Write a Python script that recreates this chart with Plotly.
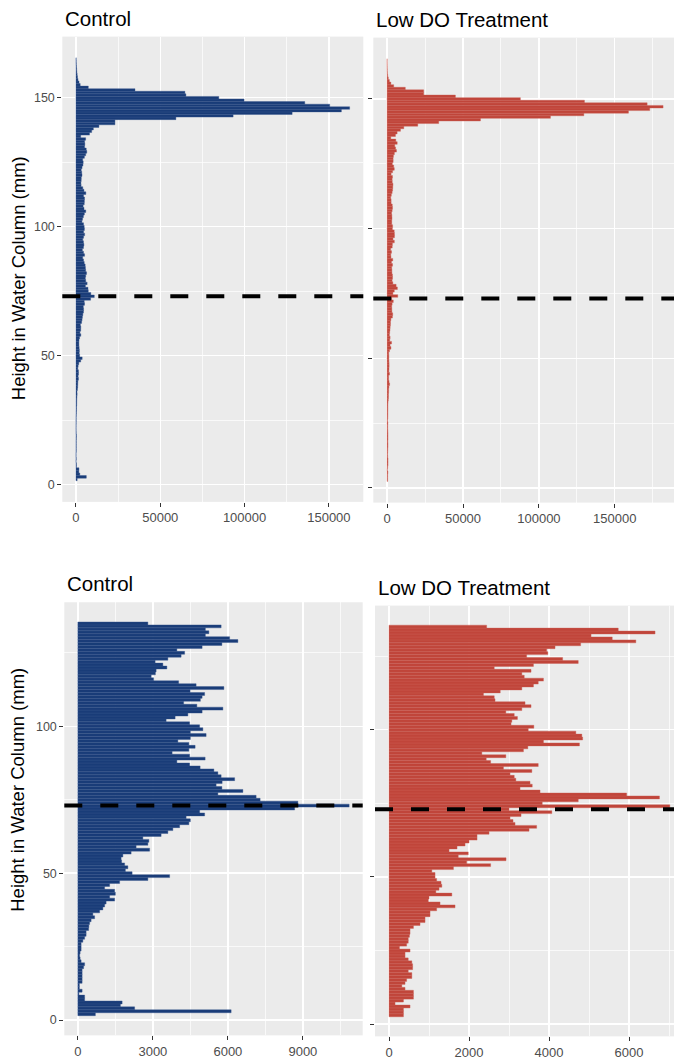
import plotly.graph_objects as go

# ---------------- data ----------------
control_height = list(range(2, 166))
control_count = [
    700, 6130, 2270, 1700, 1770, 270, 270, 40, 170, 60,            # 2-11
    60, 170, 170, 170, 170, 170, 230, 270, 130, 90,                # 12-21
    70, 90, 130, 130, 130, 200, 270, 330, 330, 430,                # 22-31
    440, 470, 530, 670, 600, 870, 1000, 1070, 1130, 1470,          # 32-41
    1270, 1500, 1470, 1070, 1270, 1670, 2800, 3670, 2170, 1900,    # 42-51
    2000, 1870, 1750, 1730, 1800, 2130, 2870, 2330, 2800, 2840,    # 52-61
    2600, 3330, 3600, 3800, 4070, 4440, 4500, 4330, 5070, 4870,    # 62-71
    8670, 10850, 8800, 7290, 7130, 5600, 6600, 5760, 5530, 5770,   # 72-81
    6270, 5730, 5600, 5440, 4890, 4470, 3960, 5090, 4470, 3770,    # 82-91
    4440, 4690, 4440, 4000, 4500, 5130, 4500, 5000, 4870, 4470,    # 92-101
    3530, 3890, 4400, 4970, 5800, 4760, 4230, 4900, 4970, 5070,    # 102-111
    4490, 5840, 4730, 4030, 3030, 2930, 3100, 3130, 3560, 3400,    # 112-121
    3090, 3600, 4130, 4270, 3960, 4970, 5760, 6400, 6070, 5100,    # 122-131
    5240, 5100, 5730, 2800, 8000, 9300, 10300, 13600, 23100, 23100,  # 132-141
    59250, 93200, 128200, 157400, 162300, 150500, 135700, 99700, 84700, 65200,  # 142-151
    64600, 35000, 7300, 2500, 1800, 1200, 900, 700, 500, 400,      # 152-161
    300, 200, 150, 100,                                            # 162-165
]

lowdo_height = list(range(3, 166))
lowdo_count = [
    360, 360, 360, 525, 150, 360, 610, 610, 610, 400,              # 3-12
    320, 400, 440, 570, 570, 480, 590, 590, 570, 480,              # 13-22
    400, 400, 525, 260, 440, 480, 480, 510, 525, 525,              # 23-32
    610, 775, 900, 900, 1025, 1025, 1190, 1650, 1275, 980,         # 33-42
    1000, 1570, 1170, 1250, 1320, 1300, 1190, 1150, 1150, 1070,    # 43-52
    1610, 2540, 1940, 2925, 1730, 1980, 1500, 1700, 1900, 2000,    # 53-62
    2200, 2200, 2500, 3500, 3690, 3150, 3100, 3025, 3300, 4070,    # 63-72
    3000, 7020, 3830, 4730, 6760, 5940, 3775, 3275, 3580, 3525,    # 73-82
    3170, 3130, 3025, 3570, 2860, 3730, 2540, 2430, 2920, 2320,    # 83-92
    3360, 3470, 4760, 3860, 4840, 4820, 4670, 3480, 3620, 3050,    # 93-102
    3070, 3210, 3130, 2920, 3320, 3550, 3400, 2650, 2630, 2360,    # 103-112
    2780, 3320, 3610, 3730, 3860, 3380, 3320, 3550, 2630, 3610,    # 113-122
    4730, 4340, 3440, 3970, 3940, 4150, 4790, 6170, 5580, 5050,    # 123-132
    6650, 5730, 2440, 5500, 6600, 8800, 11000, 20200, 34000, 61500,  # 133-142
    107600, 129600, 159000, 173000, 181800, 171300, 130000, 87800, 45000, 24100,  # 143-152
    24100, 12000, 4350, 2500, 1500, 800, 400, 200, 120, 80,        # 153-162
    50, 30, 20,                                                    # 163-165
]

zoom_max_height = 135          # lower panels show the water column below the surface layer
threshold_height = 73          # dashed reference line

panel_titles = ["Control", "Low DO Treatment", "Control", "Low DO Treatment"]
y_title = "Height in Water Column (mm)"

# ---------------- style ----------------
W, H = 674, 1060
FONT = "Liberation Sans, Arial, Helvetica, sans-serif"
BLUE = "#193C78"
BLUE_EDGE = "#34538A"
RED = "#C0453A"
RED_EDGE = "#CA5E54"
BG = "#EBEBEB"

# panel boxes in pixels: (left, top, right, bottom)
boxes = {
    1: (62.3, 36.7, 363.3, 503.3),
    2: (373.3, 37.7, 674.0, 504.0),
    3: (64.3, 604.0, 362.7, 1038.3),
    4: (375.0, 607.3, 674.0, 1039.3),
}
ytitle_center_px = {1: 279, 3: 792}


def gg_range(lo, hi):
    d = hi - lo
    return [lo - 0.05 * d, hi + 0.05 * d]


def subset(h, c, hmax):
    hh, cc = [], []
    for a, b in zip(h, c):
        if a <= hmax:
            hh.append(a)
            cc.append(b)
    return hh, cc


bc_h, bc_c = subset(control_height, control_count, zoom_max_height)
bl_h, bl_c = subset(lowdo_height, lowdo_count, zoom_max_height)

panels = [
    (1, control_height, control_count, BLUE, BLUE_EDGE, 50000, None),
    (2, lowdo_height, lowdo_count, RED, RED_EDGE, 50000, 75.9 / 50000),
    (3, bc_h, bc_c, BLUE, BLUE_EDGE, 3000, None),
    (4, bl_h, bl_c, RED, RED_EDGE, 2000, 80.0 / 2000),
]

fig = go.Figure()
layout = dict(
    width=W, height=H,
    margin=dict(l=0, r=0, t=0, b=0),
    paper_bgcolor="white",
    plot_bgcolor=BG,
    showlegend=False,
    bargap=0,
    font=dict(family=FONT, color="#4D4D4D", size=13),
)

annotations = []
shapes = []

for idx, hts, cnts, col, edge, xdt, px_per_unit in panels:
    sx = "" if idx == 1 else str(idx)
    fig.add_trace(go.Bar(
        x=cnts, y=hts, orientation="h", width=1,
        marker=dict(color=col, line=dict(color=edge, width=0.4)),
        xaxis="x" + sx, yaxis="y" + sx, hoverinfo="x+y",
    ))
    l, t, r, b = boxes[idx]
    xr = gg_range(0, max(cnts))
    if px_per_unit is not None:
        # right-hand panels are cut by the picture border
        xr = [xr[0], xr[0] + (r - l) / px_per_unit]
    yr = gg_range(min(hts) - 0.5, max(hts) + 0.5)
    left_col = idx in (1, 3)
    layout["xaxis" + sx] = dict(
        domain=[l / W, r / W], range=xr, anchor="y" + sx,
        dtick=xdt, tick0=0, tickformat="d",
        showgrid=True, gridcolor="white", gridwidth=1.4,
        minor=dict(dtick=xdt / 2, tick0=0, showgrid=True, gridcolor="white", gridwidth=0.7),
        ticks="outside", ticklen=4, tickcolor="#333333", tickwidth=1,
        tickfont=dict(size=13, color="#4D4D4D"),
        zeroline=False, showline=False, fixedrange=True,
    )
    layout["yaxis" + sx] = dict(
        domain=[1 - b / H, 1 - t / H], range=yr, anchor="x" + sx,
        dtick=50, tick0=0,
        showgrid=True, gridcolor="white", gridwidth=1.4,
        minor=dict(dtick=25, tick0=0, showgrid=True, gridcolor="white", gridwidth=0.7),
        ticks="outside", ticklen=4, tickcolor="#333333", tickwidth=1,
        showticklabels=left_col,
        tickfont=dict(size=12.5, color="#4D4D4D"),
        zeroline=False, showline=False, fixedrange=True,
    )
    # panel title
    annotations.append(dict(
        text=panel_titles[idx - 1], xref="paper", yref="paper",
        x=(l + 0.5) / W, y=1 - (t - 18.5) / H, xanchor="left", yanchor="middle",
        showarrow=False, font=dict(size=20.5, color="black", family=FONT),
    ))
    if left_col:
        annotations.append(dict(
            text=y_title, xref="paper", yref="paper",
            x=18 / W, y=1 - ytitle_center_px[idx] / H, xanchor="center", yanchor="middle",
            textangle=-90, showarrow=False,
            font=dict(size=18.5, color="black", family=FONT),
        ))
    shapes.append(dict(
        type="line", xref="x" + sx + " domain", yref="y" + sx,
        x0=0, x1=1, y0=threshold_height, y1=threshold_height,
        line=dict(color="black", width=4, dash="18px,18px"), layer="above",
    ))

layout["annotations"] = annotations
layout["shapes"] = shapes
fig.update_layout(**layout)
fig.write_html(
    "out.html",
    config={"displayModeBar": False, "staticPlot": True},
    post_script="document.body.style.margin='0';document.body.style.overflow='hidden';",
)
